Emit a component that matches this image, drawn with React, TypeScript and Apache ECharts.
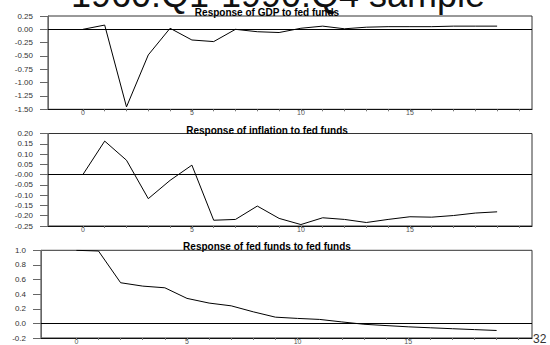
import React, { useEffect, useRef } from "react";
import * as echarts from "echarts";

// Impulse responses to a fed funds shock, periods 0..19
const periods = [0, 1, 2, 3, 4, 5, 6, 7, 8, 9, 10, 11, 12, 13, 14, 15, 16, 17, 18, 19];

const gdpResponse = [
  0.0, 0.08, -1.455, -0.48, 0.02, -0.2, -0.23, 0.0, -0.045, -0.06,
  0.02, 0.06, 0.01, 0.04, 0.05, 0.05, 0.05, 0.06, 0.06, 0.06,
];

const inflationResponse = [
  0.0, 0.163, 0.07, -0.117, -0.028, 0.046, -0.222, -0.218, -0.153, -0.213,
  -0.243, -0.21, -0.218, -0.233, -0.218, -0.205, -0.207, -0.199, -0.187, -0.181,
];

const fedFundsResponse = [
  1.0, 0.99, 0.556, 0.51, 0.487, 0.342, 0.278, 0.24, 0.158, 0.085,
  0.068, 0.054, 0.02, -0.012, -0.03, -0.047, -0.06, -0.073, -0.085, -0.097,
];

// Horizon axis
const xTickValues = [0, 1, 2, 3, 4, 5, 6, 7, 8, 9, 10, 11, 12, 13, 14, 15, 16, 17, 18, 19, 20];
const xLabelValues = [0, 5, 10, 15];

// Vertical axis ticks and their printed labels
const gdpTickValues = [0.25, 0, -0.25, -0.5, -0.75, -1.0, -1.25, -1.5];
const gdpTickLabels = ["0.25", "0.00", "-0.25", "-0.50", "-0.75", "-1.00", "-1.25", "-1.50"];

const inflationTickValues = [0.2, 0.15, 0.1, 0.05, 0, -0.05, -0.1, -0.15, -0.2, -0.25];
const inflationTickLabels = ["0.20", "0.15", "0.10", "0.05", "-0.00", "-0.05", "-0.10", "-0.15", "-0.20", "-0.25"];

const fedFundsTickValues = [1.0, 0.8, 0.6, 0.4, 0.2, 0, -0.2];
const fedFundsTickLabels = ["1.0", "0.8", "0.6", "0.4", "0.2", "0.0", "-0.2"];

const panelTitles = [
  "Response of GDP to fed funds",
  "Response of inflation to fed funds",
  "Response of fed funds to fed funds",
];
const sampleTitle = "1960:Q1-1990:Q4 sample";
const pageNumber = "32";

const FONT = "'Liberation Sans', Arial, Helvetica, sans-serif";

function lookupLabel(values: number[], labels: string[]) {
  return (v: number) => {
    const i = values.findIndex((t) => Math.abs(t - v) < 1e-9);
    return i >= 0 ? labels[i] : "";
  };
}

function pairs(ys: number[]) {
  return periods.map((p, i) => [p, ys[i]]);
}

export default function App() {
  const ref = useRef<HTMLDivElement>(null);

  useEffect(() => {
    if (!ref.current) return;
    const chart = echarts.init(ref.current, null, { renderer: "svg" });

    const grids = [
      { left: 48, top: 16, width: 484, height: 93.3 },
      { left: 48, top: 133.5, width: 484, height: 92.5 },
      { left: 41, top: 250.3, width: 491, height: 93.3 },
    ];

    const yDefs = [
      { min: -1.5, max: 0.25, interval: 0.25, vals: gdpTickValues, labs: gdpTickLabels },
      { min: -0.25, max: 0.2, interval: 0.05, vals: inflationTickValues, labs: inflationTickLabels },
      { min: -0.2, max: 1.0, interval: 0.2, vals: fedFundsTickValues, labs: fedFundsTickLabels },
    ];

    const dataSets = [gdpResponse, inflationResponse, fedFundsResponse];

    const option: any = {
      animation: false,
      backgroundColor: "#fff",
      grid: grids.map((g) => ({
        ...g,
        show: true,
        borderColor: "#333",
        borderWidth: 1,
        containLabel: false,
      })),
      xAxis: grids.map((_, i) => ({
        type: "value",
        gridIndex: i,
        min: -1.6,
        max: 20.6,
        axisLine: { show: true, onZero: false, lineStyle: { color: "#111", width: 1 } },
        axisTick: {
          show: true,
          length: 2,
          customValues: xTickValues,
          lineStyle: { color: "#777" },
        },
        axisLabel: {
          show: true,
          customValues: xLabelValues,
          margin: 0,
          fontSize: 7,
          color: "#555",
          fontFamily: FONT,
        },
        splitLine: { show: false },
      })),
      yAxis: yDefs.map((d, i) => ({
        type: "value",
        gridIndex: i,
        min: d.min,
        max: d.max,
        interval: d.interval,
        axisLine: { show: true, onZero: false, lineStyle: { color: "#666", width: 1 } },
        axisTick: { show: true, length: 8, lineStyle: { color: "#666" } },
        axisLabel: {
          margin: 15,
          fontSize: 8,
          color: "#333",
          fontFamily: FONT,
          formatter: lookupLabel(d.vals, d.labs),
        },
        splitLine: { show: false },
      })),
      series: dataSets.map((ys, i) => ({
        type: "line",
        xAxisIndex: i,
        yAxisIndex: i,
        data: pairs(ys),
        showSymbol: false,
        symbol: "none",
        lineStyle: { color: "#000", width: 1 },
        z: 3,
        markLine: {
          silent: true,
          symbol: ["none", "none"],
          label: { show: false },
          lineStyle: { color: "#000", width: 1, type: "solid" },
          data: [{ yAxis: 0 }],
        },
      })),
      graphic: [
        {
          type: "text",
          x: 278,
          y: -6,
          style: {
            text: sampleTitle,
            fontSize: 36,
            fontFamily: FONT,
            fill: "#111",
            textAlign: "center",
            textVerticalAlign: "middle",
          },
        },
        ...panelTitles.map((t, i) => ({
          type: "text",
          x: 267,
          y: grids[i].top - 3.5,
          z: 10,
          style: {
            text: t,
            fontSize: 10,
            fontWeight: "bold",
            fontFamily: FONT,
            fill: "#000",
            textAlign: "center",
            textVerticalAlign: "middle",
          },
        })),
        {
          type: "text",
          x: 533,
          y: 339,
          style: {
            text: pageNumber,
            fontSize: 12,
            fontFamily: FONT,
            fill: "#333",
            textAlign: "left",
            textVerticalAlign: "middle",
          },
        },
      ],
    };

    chart.setOption(option);
    return () => chart.dispose();
  }, []);

  return (
    <div
      ref={ref}
      style={{ position: "fixed", left: 0, top: 0, width: 550, height: 345, background: "#fff" }}
    />
  );
}
